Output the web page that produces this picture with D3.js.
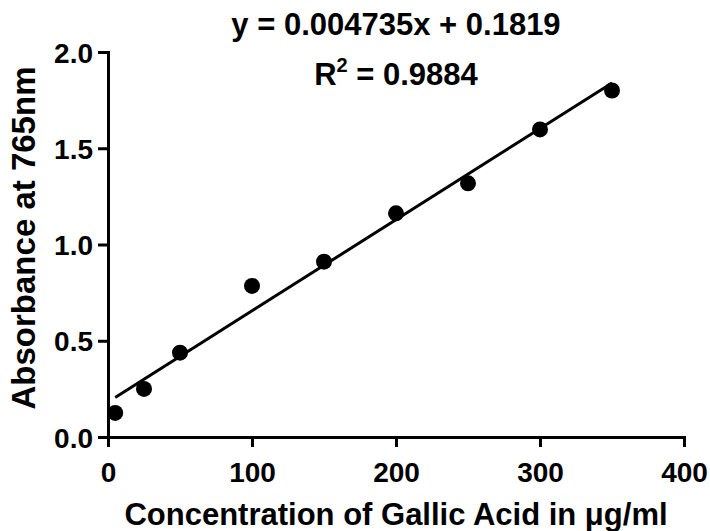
<!DOCTYPE html>
<html>
<head>
<meta charset="utf-8">
<script src="https://cdn.jsdelivr.net/npm/d3@7"></script>
<style>
  body { margin: 0; background: #fff; }
  svg { display: block; font-family: "Liberation Sans", Arial, sans-serif; font-weight: bold; }
</style>
</head>
<body>
<svg id="chart" width="710" height="531"></svg>
<script>
// concentrations (µg/ml) and measured absorbance
const concentration = [5, 25, 50, 100, 150, 200, 250, 300, 350]
const absorbance = [0.125, 0.25, 0.438, 0.785, 0.911, 1.162, 1.318, 1.598, 1.8]
const xTicks = [0, 100, 200, 300, 400]
const yTicks = [0, 0.5, 1.0, 1.5, 2.0]
const slope = 0.004735
const intercept = 0.1819
const fitRange = [5, 350]

const svg = d3.select('#chart')
const plotLeft = 108
const plotRight = 684
const plotTop = 52
const plotBottom = 437

const x = d3.scaleLinear().domain([0, 400]).range([plotLeft, plotRight])
const y = d3.scaleLinear().domain([0, 2]).range([plotBottom, plotTop])

// 坐标轴
const xAxis = d3.axisBottom(x).tickValues(xTicks).tickSize(10).tickSizeOuter(0).tickPadding(15)
const yAxis = d3.axisLeft(y).tickValues(yTicks).tickSize(10).tickSizeOuter(0).tickPadding(5)
  .tickFormat(d3.format('.1f'))

const gx = svg.append('g').attr('transform', `translate(0,${plotBottom})`).call(xAxis)
const gy = svg.append('g').attr('transform', `translate(${plotLeft},0)`).call(yAxis)

for (const g of [gx, gy]) {
  g.select('.domain').attr('stroke', '#000').attr('stroke-width', 3).attr('stroke-linecap', 'square')
  g.selectAll('.tick line').attr('stroke', '#000').attr('stroke-width', 3)
  g.selectAll('.tick text').attr('fill', '#000').style('font-size', '28px')
    .style('font-family', '"Liberation Sans", Arial, sans-serif').style('font-weight', 'bold')
}
gy.selectAll('.tick text').attr('dy', '0.36em')

// 回归直线
const line = d3.line().x(d => x(d)).y(d => y(slope * d + intercept))
svg.append('path')
  .attr('d', line(fitRange))
  .attr('fill', 'none')
  .attr('stroke', '#000')
  .attr('stroke-width', 3)

svg.append('g')
  .selectAll('circle')
  .data(concentration)
  .join('circle')
  .attr('cx', d => x(d))
  .attr('cy', (d, i) => y(absorbance[i]))
  .attr('r', 8)
  .attr('fill', '#000')

// 标题
const cx = (plotLeft + plotRight) / 2
svg.append('text')
  .attr('x', cx).attr('y', 35)
  .attr('text-anchor', 'middle')
  .style('font-size', '31px')
  .text('y = 0.004735x + 0.1819')

const r2 = svg.append('text')
  .attr('x', cx).attr('y', 85)
  .attr('text-anchor', 'middle')
  .style('font-size', '31px')
r2.append('tspan').text('R')
r2.append('tspan').attr('dy', -13).style('font-size', '20px').text('2')
r2.append('tspan').attr('dy', 13).text(' = 0.9884')

svg.append('text')
  .attr('x', cx).attr('y', 525)
  .attr('text-anchor', 'middle')
  .style('font-size', '31px')
  .text('Concentration of Gallic Acid in μg/ml')

svg.append('text')
  .attr('transform', 'translate(35,238) rotate(-90)')
  .attr('text-anchor', 'middle')
  .style('font-size', '33px')
  .text('Absorbance at 765nm')
</script>
</body>
</html>
